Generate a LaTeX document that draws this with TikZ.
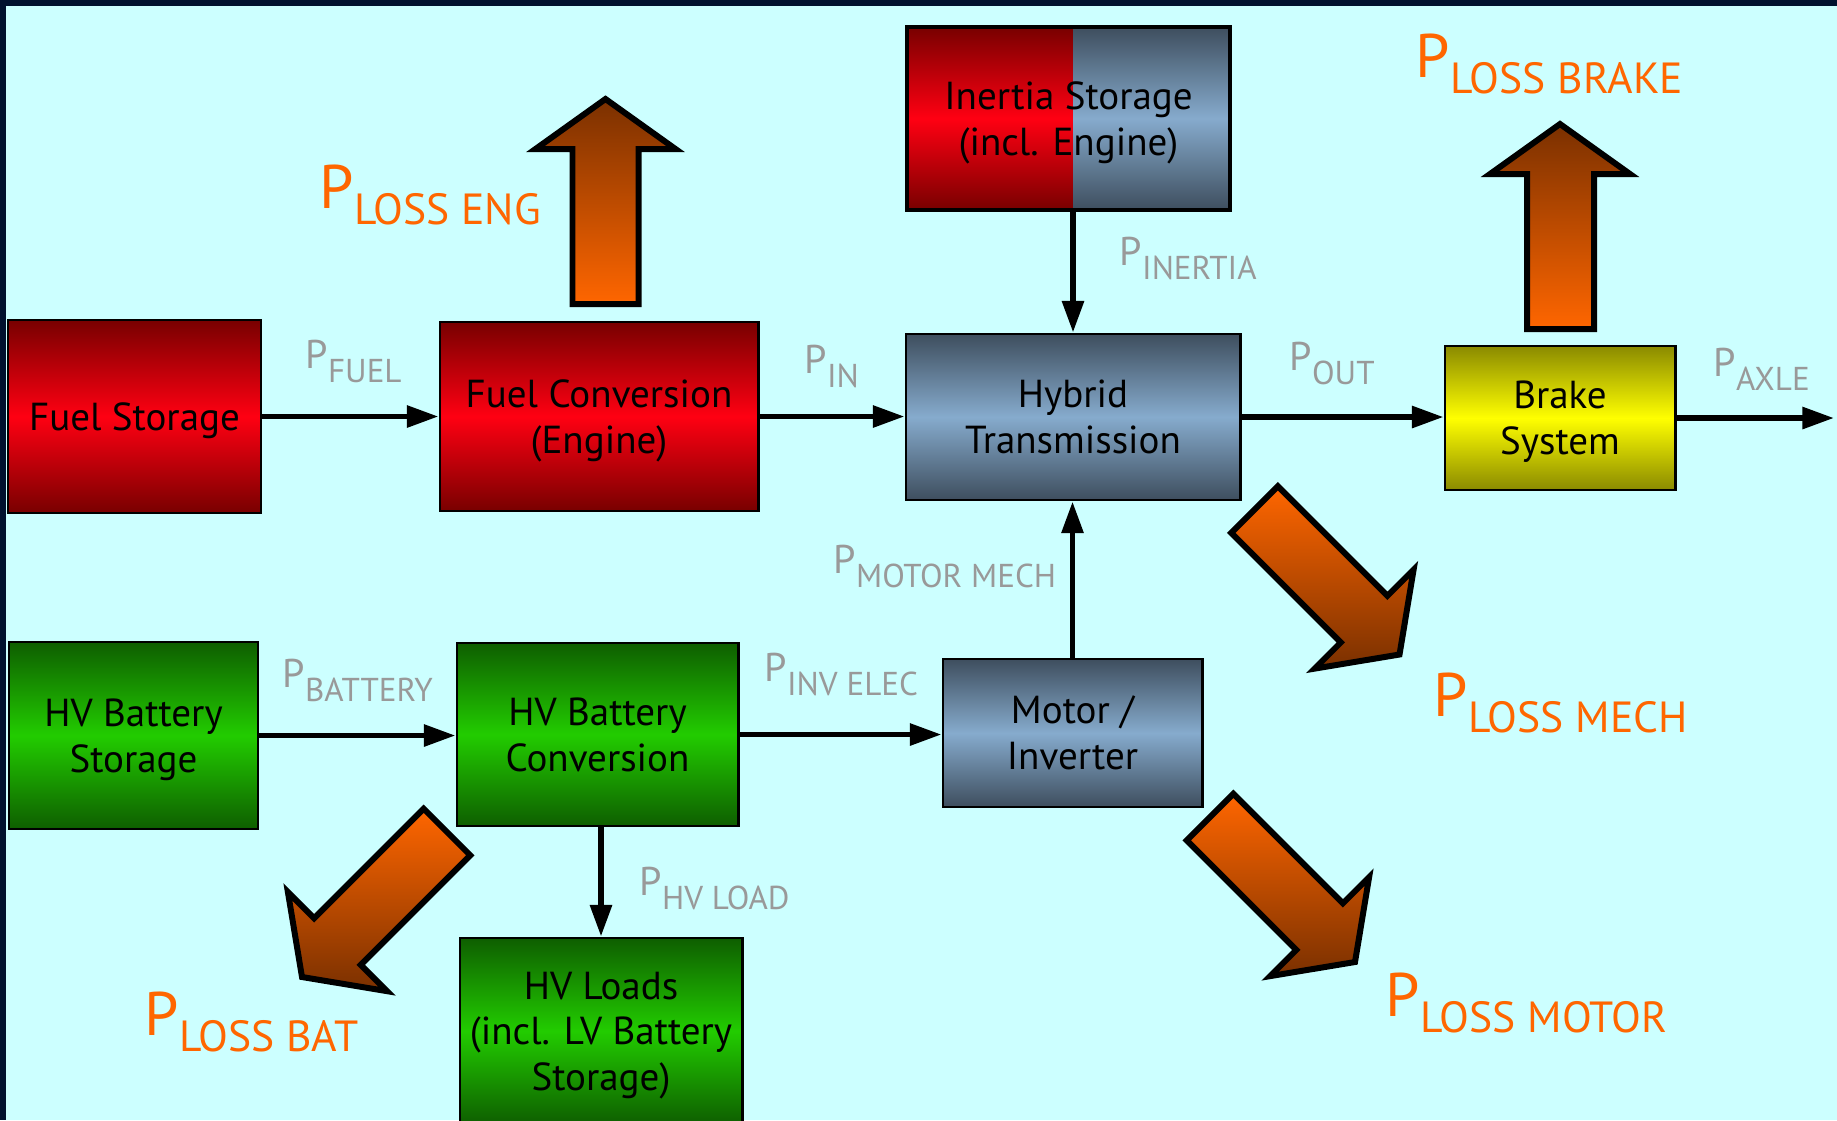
\documentclass[tikz,border=0pt]{standalone}
\usepackage{fontspec}
\setmainfont{PT Sans}
\usetikzlibrary{arrows.meta}
\definecolor{bgc}{HTML}{CCFFFF}
\definecolor{navy}{HTML}{00112E}
\definecolor{dred}{HTML}{780000}
\definecolor{bred}{HTML}{FF0012}
\definecolor{dblue}{HTML}{3E4E5E}
\definecolor{bblue}{HTML}{86ABCD}
\definecolor{dyel}{HTML}{8A8A00}
\definecolor{byel}{HTML}{FFFF00}
\definecolor{dgreen}{HTML}{0E5E00}
\definecolor{bgreen}{HTML}{22CC00}
\definecolor{lgray}{HTML}{999999}
\definecolor{lorange}{HTML}{FF6600}
\definecolor{abrown}{HTML}{7A3000}
\newcommand\glab[2]{{\fontsize{11.4}{12}\selectfont #1}\raisebox{-4pt}{\fontsize{9.4}{10}\selectfont #2}}
\newcommand\olab[2]{{\fontsize{17.5}{18}\selectfont #1}\raisebox{-4.8pt}{\fontsize{12.4}{13}\selectfont #2}}
\newcommand\bt[1]{\raisebox{0pt}[\dimexpr\height+2.6pt\relax][\depth]{\begin{tabular}{@{}c@{}}#1\end{tabular}}}
\begin{document}
\begin{tikzpicture}[x=0.01cm,y=-0.01cm,
 box/.style={draw=black,line width=0.8pt,inner sep=0pt,font=\fontsize{11.1}{13}\selectfont,text=black},
 redbox/.style={box,top color=dred,bottom color=dred,middle color=bred},
 bluebox/.style={box,top color=dblue,bottom color=dblue,middle color=bblue},
 yelbox/.style={box,top color=dyel,bottom color=dyel,middle color=byel},
 greenbox/.style={box,top color=dgreen,bottom color=dgreen,middle color=bgreen},
 conn/.style={line width=1.6pt,-{Triangle[length=9pt,width=6pt]}},
 fat/.style={draw=black,line width=1.7pt,line join=miter},
 fatup/.style={fat,top color=abrown,bottom color=lorange},
 fatdown/.style={fat,top color=lorange,bottom color=abrown},
 gl/.style={anchor=base west,inner sep=0pt,text=lgray},
 ol/.style={anchor=base west,inner sep=0pt,text=lorange}]
\useasboundingbox (0,0) rectangle (1837,1120);
\clip (0,0) rectangle (1837,1120);
\fill[navy] (0,0) rectangle (1837,1120);
\fill[bgc] (6,6) rectangle (1837,1120);

% boxes
\node[redbox,minimum width=2.53cm,minimum height=1.93cm] (fuelst) at (134.5,416.5) {\bt{Fuel Storage}};
\node[redbox,minimum width=3.18cm,minimum height=1.89cm] (fuelconv) at (599,416.5) {\bt{Fuel Conversion\\(Engine)}};
\shade[top color=dred,bottom color=dred,middle color=bred] (907,27) rectangle (1073,210);
\shade[top color=dblue,bottom color=dblue,middle color=bblue] (1073,27) rectangle (1230,210);
\node[box,line width=1.1pt,minimum width=3.23cm,minimum height=1.83cm] (inertia) at (1068.5,118.5) {\bt{Inertia Storage\\(incl. Engine)}};
\node[bluebox,minimum width=3.34cm,minimum height=1.66cm] (hybrid) at (1073,417) {\bt{Hybrid\\Transmission}};
\node[yelbox,minimum width=2.30cm,minimum height=1.44cm] (brake) at (1560,418) {\bt{Brake\\System}};
\node[greenbox,minimum width=2.49cm,minimum height=1.87cm] (hvst) at (133.5,735.5) {\bt{HV Battery\\Storage}};
\node[greenbox,minimum width=2.81cm,minimum height=1.83cm] (hvconv) at (597.5,734.5) {\bt{HV Battery\\Conversion}};
\node[bluebox,minimum width=2.59cm,minimum height=1.48cm] (motor) at (1072.5,733) {\bt{Motor /\\Inverter}};
\node[greenbox,minimum width=2.82cm,minimum height=1.86cm] (hvload) at (601,1031) {\bt{HV Loads\\(incl. LV Battery\\Storage)}};

% connectors
\coordinate (axle) at (1834,418);
\draw[conn] (fuelst.east) -- (fuelst.east -| fuelconv.west);
\draw[conn] (fuelconv.east) -- (fuelconv.east -| hybrid.west);
\draw[conn] (hybrid.north |- inertia.south) -- (hybrid.north);
\draw[conn] (hybrid.east) -- (hybrid.east -| brake.west);
\draw[conn] (brake.east) -- (axle);
\draw[conn] (motor.north) -- (motor.north |- hybrid.south);
\draw[conn] (hvst.east) -- (hvst.east -| hvconv.west);
\draw[conn] (hvconv.east) -- (hvconv.east -| motor.west);
\draw[conn] (hvload.north |- hvconv.south) -- (hvload.north);

% fat loss arrows
\path[fatup] (572.5,304) -- (572.5,149) -- (535.5,149) -- (605.5,99) -- (675.5,149) -- (638.5,149) -- (638.5,304) -- cycle;
\path[fatup] (1527,329) -- (1527,174) -- (1490,174) -- (1560,124) -- (1630,174) -- (1594,174) -- (1594,329) -- cycle;
\path[fatdown] (1277.8,486.2) -- (1387.4,595.8) -- (1413.6,569.6) -- (1399.5,654.5) -- (1314.6,668.6) -- (1340.8,642.4) -- (1231.2,532.8) -- cycle;
\path[fatdown] (1233.3,793.7) -- (1342.9,903.3) -- (1369.1,877.1) -- (1355,962) -- (1270.1,976.1) -- (1296.3,949.9) -- (1186.7,840.3) -- cycle;
\path[fatdown] (470.3,855.3) -- (360.7,964.9) -- (386.9,991.1) -- (302,977) -- (287.9,892.1) -- (314.1,918.3) -- (423.7,808.7) -- cycle;

% gray labels
\node[gl] (pfuel) at (305,368) {\glab{P}{FUEL}};
\node[gl] (pin) at (804,373) {\glab{P}{IN}};
\node[gl] (pinertia) at (1119,265) {\glab{P}{INERTIA}};
\node[gl] (pout) at (1289,370) {\glab{P}{OUT}};
\node[gl] (paxle) at (1713,376) {\glab{P}{AXLE}};
\node[gl] (pmotor) at (833,573) {\glab{P}{MOTOR MECH}};
\node[gl] (pinv) at (764,681) {\glab{P}{INV ELEC}};
\node[gl] (pbat) at (282,687) {\glab{P}{BATTERY}};
\node[gl] (phv) at (639,895) {\glab{P}{HV LOAD}};

% orange labels
\node[ol] (leng) at (319,208) {\olab{P}{LOSS ENG}};
\node[ol] (lbrake) at (1415,77) {\olab{P}{LOSS BRAKE}};
\node[ol] (lmech) at (1433,716) {\olab{P}{LOSS MECH}};
\node[ol] (lmotor) at (1385,1016) {\olab{P}{LOSS MOTOR}};
\node[ol] (lbat) at (144,1035) {\olab{P}{LOSS BAT}};
\end{tikzpicture}
\end{document}
